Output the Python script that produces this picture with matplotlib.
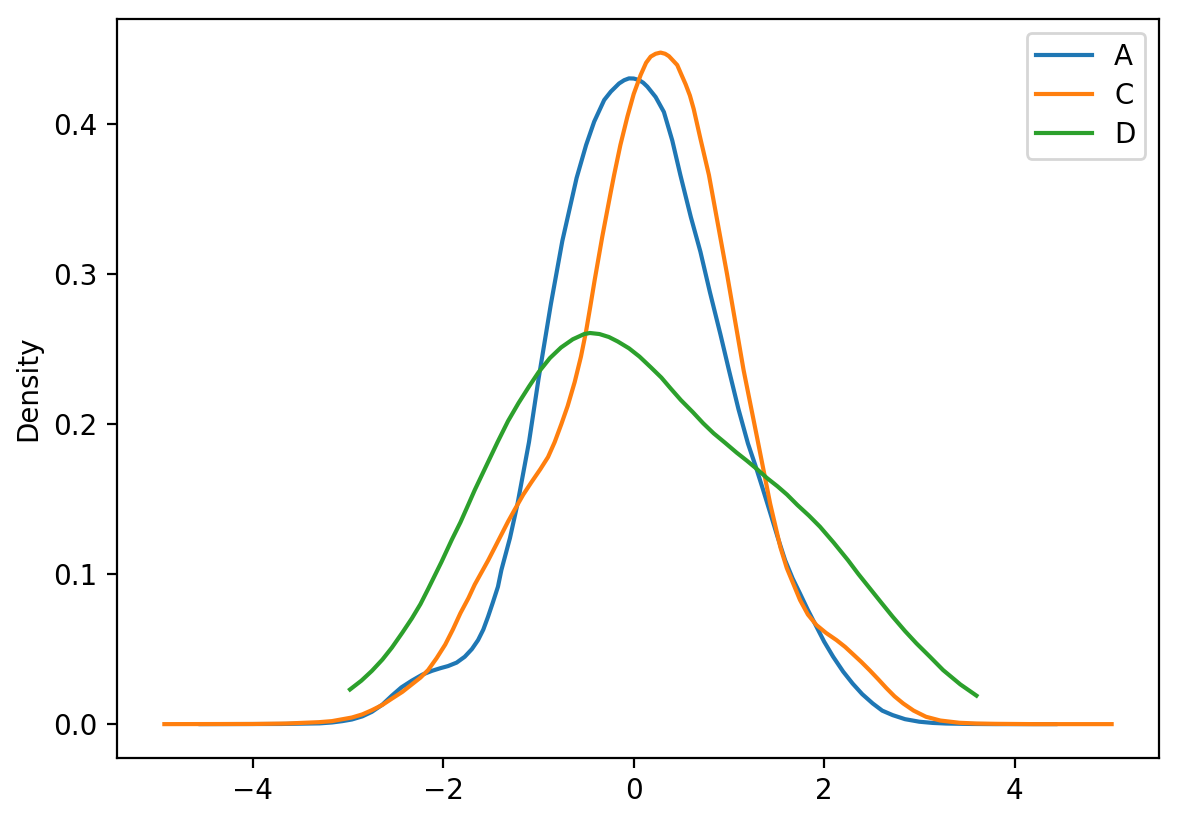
import matplotlib
matplotlib.use("Agg")
import matplotlib.pyplot as plt

labels = ["A", "C", "D"]

a_x = [-4.55, -3.7, -3.3, -3.17, -3.06, -2.96, -2.85, -2.75, -2.64, -2.54, -2.44, -2.33,
       -2.22, -2.12, -2.03, -1.95, -1.86, -1.775, -1.70, -1.635, -1.58, -1.53, -1.48,
       -1.426, -1.39, -1.30, -1.22, -1.10, -1.00, -0.87, -0.75, -0.60, -0.50, -0.415,
       -0.31, -0.24, -0.154, -0.10, -0.05, 0.0, 0.055, 0.10, 0.143, 0.23, 0.317, 0.405, 0.49, 0.60, 0.70,
       0.80, 0.91, 1.00, 1.10, 1.20, 1.28, 1.36, 1.433, 1.51, 1.59, 1.67, 1.747, 1.83,
       1.92, 2.00, 2.095, 2.20, 2.30, 2.40, 2.51, 2.61, 2.72, 2.85, 3.00, 3.14, 3.28,
       3.55, 3.80, 4.43]
a_y = [0.0, 0.0001, 0.0005, 0.0011, 0.0020, 0.0031, 0.0052, 0.0082, 0.0130, 0.0190, 0.0245, 0.0290,
       0.0330, 0.0355, 0.0373, 0.0387, 0.0410, 0.0449, 0.0500, 0.0560, 0.0630, 0.0716, 0.0810,
       0.0916, 0.1027, 0.1240, 0.1470, 0.1880, 0.2300, 0.2800, 0.3220, 0.3640, 0.3860, 0.4016,
       0.4160, 0.4216, 0.4270, 0.4292, 0.4304, 0.4303, 0.4293, 0.4275, 0.4249, 0.4180, 0.4080, 0.3890, 0.3660, 0.3380, 0.3150,
       0.2880, 0.2600, 0.2360, 0.2100, 0.1870, 0.1720, 0.1560, 0.1410, 0.1250, 0.1093, 0.0970, 0.0870, 0.0760,
       0.0649, 0.0550, 0.0449, 0.0350, 0.0270, 0.0200, 0.0138, 0.0090, 0.0060, 0.0033, 0.0016, 0.0008, 0.0004,
       0.0001, 0.0, 0.0]

c_x = [-4.93, -4.0, -3.65, -3.305, -3.17, -2.96, -2.85, -2.75, -2.64, -2.54, -2.43, -2.33,
       -2.24, -2.16, -2.07, -1.98, -1.90, -1.82, -1.736, -1.67, -1.53, -1.457, -1.32, -1.25,
       -1.16, -1.077, -0.98, -0.90, -0.83, -0.76, -0.694, -0.62, -0.554, -0.50, -0.457,
       -0.41, -0.33, -0.24, -0.206, -0.14, -0.066, 0.0, 0.073, 0.13, 0.178, 0.23, 0.282, 0.33, 0.37,
       0.41, 0.457, 0.50, 0.545, 0.59, 0.63, 0.70, 0.79, 0.88, 0.98, 1.154, 1.294, 1.433, 1.54,
       1.608, 1.747, 1.83, 1.92, 2.02, 2.13, 2.22, 2.30, 2.39, 2.48, 2.57, 2.654, 2.74, 2.83,
       2.94, 3.07, 3.22, 3.42, 3.60, 3.80, 4.20, 5.02]
c_y = [0.0, 0.0001, 0.0004, 0.0013, 0.0020, 0.0044, 0.0065, 0.0093, 0.0128, 0.0170, 0.0215, 0.0265,
       0.0310, 0.0360, 0.0440, 0.0530, 0.0630, 0.0740, 0.0840, 0.0930, 0.1090, 0.1180, 0.1350, 0.1430,
       0.1530, 0.1610, 0.1700, 0.1780, 0.1880, 0.2000, 0.2120, 0.2280, 0.2450, 0.2620, 0.2780,
       0.2960, 0.3250, 0.3550, 0.3660, 0.3860, 0.4050, 0.4200, 0.4327, 0.4408, 0.4449, 0.4468, 0.4476, 0.4468, 0.4452,
       0.4425, 0.4393, 0.4330, 0.4265, 0.4190, 0.4100, 0.3904, 0.3660, 0.3347, 0.3000, 0.2360, 0.1916, 0.1470, 0.1180,
       0.1040, 0.0827, 0.0730, 0.0660, 0.0608, 0.0560, 0.0515, 0.0468, 0.0415, 0.0358, 0.0298, 0.0240, 0.0185, 0.0138,
       0.0090, 0.0049, 0.0024, 0.0009, 0.0004, 0.0002, 0.0, 0.0]

d_x = [-2.98, -2.86, -2.75, -2.64, -2.54, -2.43, -2.33, -2.24, -2.16, -2.09, -2.02, -1.91,
       -1.82, -1.736, -1.67, -1.55, -1.43, -1.32, -1.21, -1.10, -1.0, -0.88, -0.764, -0.64,
       -0.52, -0.46, -0.36, -0.26, -0.167, -0.05, 0.06, 0.18, 0.29, 0.387, 0.495, 0.62,
       0.73, 0.84, 0.96, 1.08, 1.19, 1.294, 1.40, 1.51, 1.61, 1.72, 1.84, 1.956, 2.10,
       2.25, 2.36, 2.48, 2.60, 2.72, 2.85, 2.97, 3.11, 3.25, 3.43, 3.60]
d_y = [0.0231, 0.0290, 0.0355, 0.0430, 0.0510, 0.0610, 0.0705, 0.0800, 0.0900, 0.0990, 0.1080, 0.1230,
       0.1345, 0.1465, 0.1560, 0.1720, 0.1880, 0.2020, 0.2140, 0.2250, 0.2345, 0.2440, 0.2510, 0.2565,
       0.2600, 0.2607, 0.2600, 0.2580, 0.2550, 0.2505, 0.2450, 0.2378, 0.2310, 0.2238, 0.2160, 0.2080,
       0.2005, 0.1938, 0.1875, 0.1810, 0.1755, 0.1700, 0.1640, 0.1585, 0.1530, 0.1460, 0.1390, 0.1316, 0.1210,
       0.1093, 0.1000, 0.0905, 0.0810, 0.0716, 0.0620, 0.0538, 0.0450, 0.0360, 0.0265, 0.0190]

fig = plt.figure(figsize=(5.885, 4.11), dpi=200)
ax = fig.add_axes([117 / 1177, 1 - 757.7 / 822, (1159 - 117) / 1177, (757.7 - 19) / 822])
for xs, ys, lab in zip([a_x, c_x, d_x], [a_y, c_y, d_y], labels):
    ax.plot(xs, ys, label=lab)
ax.set_ylabel("Density")
ax.legend(loc="upper right", labelspacing=0.4, borderpad=0.35)
fig.savefig("out.png", dpi=200)
